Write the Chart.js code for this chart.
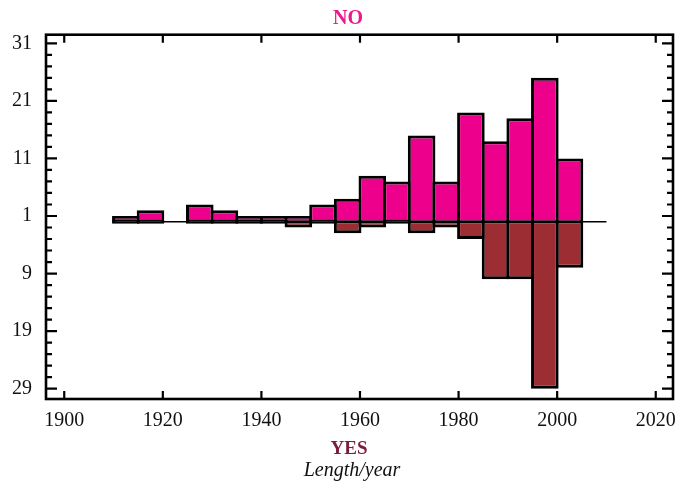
<!DOCTYPE html>
<html lang="en">
  <head>
    <meta charset="UTF-8" />
    <title>Length/year NO vs YES</title>
    <style>
      html, body { margin: 0; padding: 0; background: #ffffff; }
      canvas { display: block; }
    </style>
  </head>
  <body>
    <canvas id="lengthChart" width="694" height="483"></canvas>
    <script src="https://cdn.jsdelivr.net/npm/chart.js@4.4.2/dist/chart.umd.min.js"></script>
    <script>
      // 5-year bins, start year of each bin
      const binStarts = [1910, 1915, 1920, 1925, 1930, 1935, 1940, 1945, 1950, 1955,
        1960, 1965, 1970, 1975, 1980, 1985, 1990, 1995, 2000];
      const binWidth = 5;
      // counts (NO drawn upward, YES drawn downward)
      const noCounts = [1, 2, null, 3, 2, 1, 1, 1, 3, 4, 8, 7, 15, 7, 19, 14, 18, 25, 11];
      const yesCounts = [0, 0, null, 0, 0, 0, 0, 1, 0, 2, 1, 0, 2, 1, 3, 10, 10, 29, 8];
      const baselineSpan = [1910, 2010];

      const xTickYears = [1900, 1920, 1940, 1960, 1980, 2000, 2020];
      const yTickValues = [-29, -19, -9, 1, 11, 21, 31];
      const yMinorValues = [];
      for (let v = -29; v <= 31; v += 2) yMinorValues.push(v);

      const serif = '"Liberation Serif", "Times New Roman", serif';
      const pink = "#ec008c";
      const brown = "#9b2d33";

      const frameAndTicks = {
        id: "frameAndTicks",
        afterDraw(chart) {
          const { ctx, chartArea: a, scales } = chart;
          ctx.save();
          ctx.strokeStyle = "#000";
          ctx.lineCap = "butt";
          ctx.lineWidth = 2.2;
          ctx.beginPath();
          for (const v of yMinorValues) {
            const y = scales.y.getPixelForValue(v);
            const len = yTickValues.includes(v) ? 11 : 6;
            ctx.moveTo(a.left, y); ctx.lineTo(a.left + len, y);
            ctx.moveTo(a.right, y); ctx.lineTo(a.right - len, y);
          }
          for (const yr of xTickYears) {
            const x = scales.x.getPixelForValue(yr);
            ctx.moveTo(x, a.bottom); ctx.lineTo(x, a.bottom - 8);
            ctx.moveTo(x, a.top); ctx.lineTo(x, a.top + 8);
          }
          ctx.stroke();
          ctx.lineWidth = 2.6;
          ctx.strokeRect(a.left, a.top, a.right - a.left, a.bottom - a.top);

          const cx = chart.width / 2;
          ctx.textAlign = "center";
          ctx.textBaseline = "middle";
          ctx.fillStyle = "#ee168c";
          ctx.font = "bold 20px " + serif;
          ctx.fillText("NO", cx + 1, 19);
          ctx.fillStyle = "#7b1d3e";
          ctx.font = "bold 19px " + serif;
          ctx.fillText("YES", cx + 2, 449);
          ctx.fillStyle = "#111";
          ctx.font = "italic 20px " + serif;
          ctx.fillText("Length/year", cx + 5, 471);
          ctx.restore();
        },
      };

      const ctx = document.getElementById("lengthChart").getContext("2d");

      new Chart(ctx, {
        type: "bar",
        data: {
          datasets: [
            {
              label: "NO",
              data: binStarts.map((s, i) => ({ x: s + binWidth / 2, y: noCounts[i] })),
              backgroundColor: pink,
              borderColor: "#000",
              borderWidth: { top: 3, left: 3, right: 3, bottom: 1.5 },
              borderSkipped: false,
              grouped: false,
              barPercentage: 1.12,
              categoryPercentage: 1,
              order: 2,
            },
            {
              label: "YES",
              data: binStarts.map((s, i) => ({ x: s + binWidth / 2, y: yesCounts[i] === null ? null : -yesCounts[i] })),
              backgroundColor: brown,
              borderColor: "#000",
              borderWidth: { top: 1.5, left: 3, right: 3, bottom: 3 },
              borderSkipped: false,
              grouped: false,
              barPercentage: 1.12,
              categoryPercentage: 1,
              minBarLength: 4,
              order: 1,
            },
            {
              type: "line",
              label: "baseline",
              data: baselineSpan.map((x) => ({ x, y: 0 })),
              borderColor: "#000",
              borderWidth: 1.6,
              pointRadius: 0,
              order: 3,
            },
          ],
        },
        options: {
          responsive: false,
          animation: false,
          layout: { padding: { top: 34.7, left: 0, right: 21, bottom: 0 } },
          plugins: {
            legend: { display: false },
            tooltip: { enabled: false },
          },
          scales: {
            x: {
              type: "linear",
              offset: false,
              min: 1896.3,
              max: 2023.5,
              grid: { display: false, drawTicks: false, offset: false },
              border: { display: false },
              afterBuildTicks(scale) {
                scale.ticks = xTickYears.map((value) => ({ value }));
              },
              afterFit(scale) {
                scale.height = 84;
                scale.paddingLeft = 0;
                scale.paddingRight = 0;
              },
              ticks: {
                autoSkip: false,
                maxRotation: 0,
                padding: 10,
                color: "#111",
                font: { family: serif, size: 20 },
                callback: (v) => String(v),
              },
            },
            y: {
              min: -30.8,
              max: 32.5,
              grid: { display: false, drawTicks: false },
              border: { display: false },
              afterBuildTicks(scale) {
                scale.ticks = yTickValues.map((value) => ({ value }));
              },
              afterFit(scale) {
                scale.width = 46;
                scale.paddingTop = 0;
                scale.paddingBottom = 0;
              },
              ticks: {
                autoSkip: false,
                padding: 14,
                color: "#111",
                font: { family: serif, size: 20 },
                callback: (v) => String(Math.abs(v)),
              },
            },
          },
        },
        plugins: [frameAndTicks],
      });
    </script>
  </body>
</html>
